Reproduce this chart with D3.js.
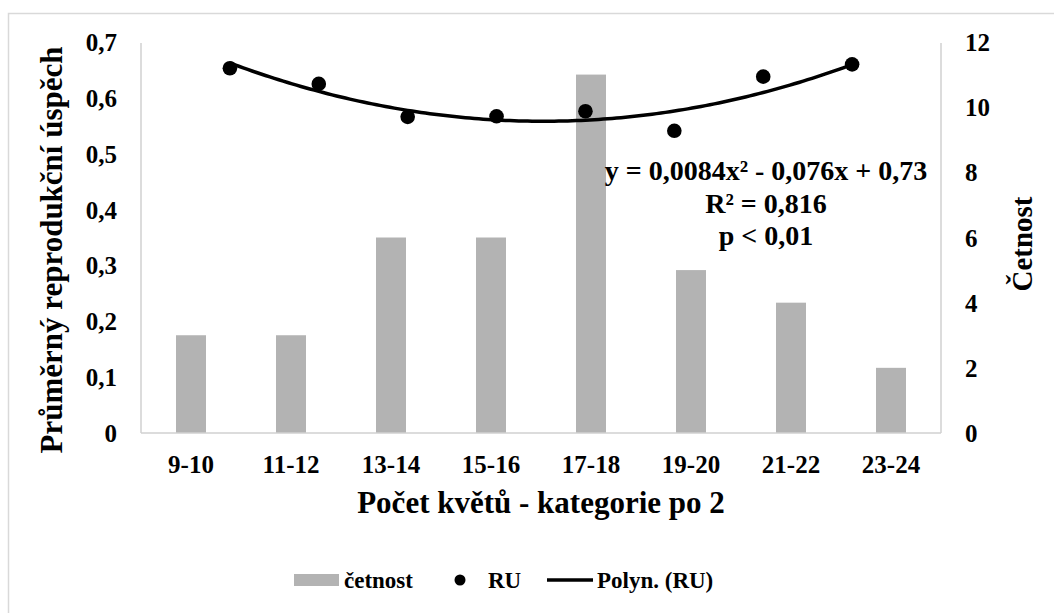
<!DOCTYPE html>
<html>
<head>
<meta charset="utf-8">
<script src="https://cdn.jsdelivr.net/npm/d3@7"></script>
</head>
<body style="margin:0">
<script>
// Flower-count categories (pairs of flowers per plant)
const categories = ["9-10", "11-12", "13-14", "15-16", "17-18", "19-20", "21-22", "23-24"];
// Frequency of plants in each category (right axis)
const cetnost = [3, 3, 6, 6, 11, 5, 4, 2];
// Mean reproductive success per category (left axis)
const ru = [0.653, 0.625, 0.566, 0.567, 0.576, 0.541, 0.638, 0.660];
// Quadratic trend coefficients: a*x^2 + b*x + c
const polyCoef = [0.0084, -0.076, 0.73];
const leftTicks = [0, 0.1, 0.2, 0.3, 0.4, 0.5, 0.6, 0.7];
const rightTicks = [0, 2, 4, 6, 8, 10, 12];
const trendLines = ["y = 0,0084x² - 0,076x + 0,73", "R² = 0,816", "p < 0,01"];
const legendItems = ["četnost", "RU", "Polyn. (RU)"];

const W = 1054, H = 613;
const plot = { left: 141, right: 941, top: 42, bottom: 433 };

const svg = d3.select("body").append("svg").attr("width", W).attr("height", H)
  .attr("font-family", "Liberation Serif").attr("font-weight", "bold");

// every label: bold Times-style serif
const styleText = (sel, size) => sel
  .attr("font-family", "Liberation Serif")
  .style("font-family", () => "'Liberation Serif'")
  .style("font-weight", "bold")
  .style("font-size", size + "px")
  .attr("fill", "#000");

// outer chart frame
svg.append("rect").attr("x", 8.5).attr("y", 13.5).attr("width", W + 20).attr("height", H + 20)
  .attr("fill", "#fff").attr("stroke", "#d9d9d9").attr("stroke-width", 1.5);

const x = d3.scaleBand().domain(categories).range([plot.left, plot.right])
  .paddingInner(0.7).paddingOuter(0.35);
const xs = d3.scaleLinear().domain([0, 9]).range([plot.left, plot.right]);
const yL = d3.scaleLinear().domain([0, 0.7]).range([plot.bottom, plot.top]);
const yR = d3.scaleLinear().domain([0, 12]).range([plot.bottom, plot.top]);

const fmt = d => d3.format(".1f")(d).replace(".", ",").replace(/^0,0$/, "0");

// bars (frequency)
svg.append("g").selectAll("rect").data(cetnost).join("rect")
  .attr("x", (d, i) => x(categories[i]))
  .attr("y", d => yR(d))
  .attr("width", x.bandwidth())
  .attr("height", d => yR(0) - yR(d))
  .attr("fill", "#b3b3b3");

// axis frame lines
const axisColor = "#d0d0d0";
svg.append("line").attr("x1", plot.left).attr("x2", plot.left).attr("y1", plot.top + 1).attr("y2", plot.bottom)
  .attr("stroke", axisColor).attr("stroke-width", 1.5);
svg.append("line").attr("x1", plot.right).attr("x2", plot.right).attr("y1", plot.top + 1).attr("y2", plot.bottom)
  .attr("stroke", axisColor).attr("stroke-width", 1.5);
svg.append("line").attr("x1", plot.left).attr("x2", plot.right).attr("y1", plot.bottom).attr("y2", plot.bottom)
  .attr("stroke", axisColor).attr("stroke-width", 1.5);

// left axis labels
const gL = svg.append("g").attr("transform", `translate(${plot.left},0)`)
  .call(d3.axisLeft(yL).tickValues(leftTicks).tickFormat(fmt).tickSize(0).tickPadding(24));
gL.select(".domain").remove();
gL.attr("font-family", "Liberation Serif").attr("font-size", null);
styleText(gL.selectAll("text"), 25).attr("dy", "0.34em");

// right axis labels
const gR = svg.append("g").attr("transform", `translate(${plot.right},0)`)
  .call(d3.axisRight(yR).tickValues(rightTicks).tickSize(0).tickPadding(24));
gR.select(".domain").remove();
gR.attr("font-family", "Liberation Serif").attr("font-size", null);
styleText(gR.selectAll("text"), 25).attr("dy", "0.34em");

// category labels
const gX = svg.append("g").attr("transform", `translate(0,${plot.bottom})`)
  .call(d3.axisBottom(x).tickSize(0).tickPadding(22));
gX.select(".domain").remove();
gX.attr("font-family", "Liberation Serif").attr("font-size", null);
styleText(gX.selectAll("text"), 25);

// trend curve
const poly = t => polyCoef[0] * t * t + polyCoef[1] * t + polyCoef[2];
const curveX = d3.range(1, 8.001, 0.05);
svg.append("path").datum(curveX)
  .attr("d", d3.line().x(t => xs(t)).y(t => yL(poly(t))))
  .attr("fill", "none").attr("stroke", "#000").attr("stroke-width", 3.5);

// points
svg.append("g").selectAll("circle").data(ru).join("circle")
  .attr("cx", (d, i) => xs(i + 1)).attr("cy", d => yL(d)).attr("r", 7.3).attr("fill", "#000");

// trend equation
const eqBase = [180, 213, 245];
styleText(svg.append("g").selectAll("text").data(trendLines).join("text"), 28)
  .attr("text-anchor", "middle").attr("x", 766).attr("y", (d, i) => eqBase[i]).text(d => d);

// axis titles
styleText(svg.append("text"), 31).attr("transform", "translate(62,250) rotate(-90)")
  .attr("text-anchor", "middle").text("Průměrný reprodukční úspěch");
styleText(svg.append("text"), 29).attr("transform", "translate(1032,244) rotate(-90)")
  .attr("text-anchor", "middle").text("Četnost");
styleText(svg.append("text"), 31).attr("x", (plot.left + plot.right) / 2).attr("y", 513)
  .attr("text-anchor", "middle").text("Počet květů - kategorie po 2");

// legend
const lg = svg.append("g");
lg.append("rect").attr("x", 294).attr("y", 574).attr("width", 45).attr("height", 12).attr("fill", "#b3b3b3");
styleText(lg.append("text"), 23).attr("x", 344).attr("y", 588).text(legendItems[0]);
lg.append("circle").attr("cx", 460).attr("cy", 580).attr("r", 5.5).attr("fill", "#000");
styleText(lg.append("text"), 23).attr("x", 488).attr("y", 588).text(legendItems[1]);
lg.append("line").attr("x1", 547).attr("x2", 593).attr("y1", 580).attr("y2", 580)
  .attr("stroke", "#000").attr("stroke-width", 3.5);
styleText(lg.append("text"), 23).attr("x", 597).attr("y", 588).text(legendItems[2]);
</script>
</body>
</html>
